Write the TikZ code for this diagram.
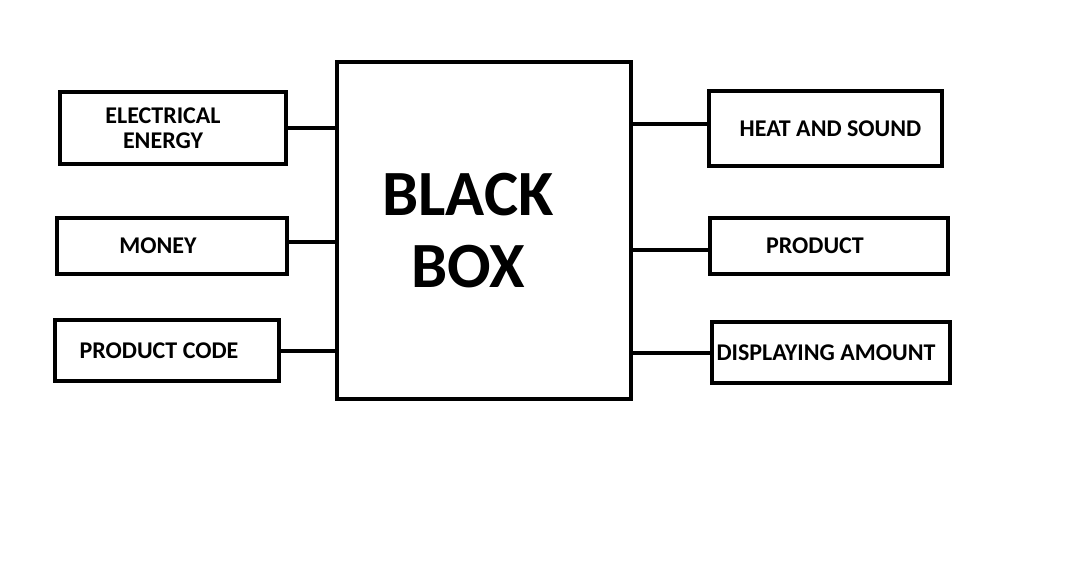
\documentclass[tikz,border=0pt]{standalone}
\usepackage{fontspec}
\setmainfont{Carlito}
\tikzset{
	outbox/.style={draw, line width=4pt, inner sep=0pt},
	small/.style={font=\fontsize{24}{25.5}\selectfont\bfseries, align=center},
	big/.style={font=\fontsize{64.5}{72}\selectfont\bfseries, align=center}
}
\begin{document}
\begin{tikzpicture}[x=1pt, y=-1pt, line width=4pt]
			%%%%% START %%%%%
			
			\useasboundingbox (0, 0) rectangle (1074, 578);
			
			\node[outbox, minimum width=294pt, minimum height=337pt,
				label={[big, xshift=-16pt]center:BLACK\\BOX}] (bb) at (484, 230.5) {};
			
			\node[outbox, minimum width=226pt, minimum height=72pt,
				label={[small, xshift=-10pt]center:ELECTRICAL\\ENERGY}] (energy) at (173, 128) {};
			\node[outbox, minimum width=230pt, minimum height=56pt,
				label={[small, xshift=-14pt]center:MONEY}] (money) at (172, 246) {};
			\node[outbox, minimum width=224pt, minimum height=61pt,
				label={[small, xshift=-8pt]center:PRODUCT CODE}] (code) at (167, 350.5) {};
			
			\node[outbox, minimum width=233pt, minimum height=75pt,
				label={[small, xshift=5pt]center:HEAT AND SOUND}] (heat) at (825.5, 128.5) {};
			\node[outbox, minimum width=238pt, minimum height=56pt,
				label={[small, xshift=-14pt]center:PRODUCT}] (product) at (829, 246) {};
			\node[outbox, minimum width=238pt, minimum height=61pt,
				label={[small, xshift=-5pt]center:DISPLAYING AMOUNT}] (amount) at (831, 352.5) {};
			
			\draw (energy.east) -- (energy.east -| bb.west);
			\draw ([yshift=4pt]money.east) -- ([yshift=4pt]money.east -| bb.west);
			\draw (code.east) -- (code.east -| bb.west);
			
			\draw ([yshift=5pt]heat.west) -- ([yshift=5pt]heat.west -| bb.east);
			\draw ([yshift=-4pt]product.west) -- ([yshift=-4pt]product.west -| bb.east);
			\draw (amount.west) -- (amount.west -| bb.east);
			
			%%%%% END %%%%%
\end{tikzpicture}
\end{document}
